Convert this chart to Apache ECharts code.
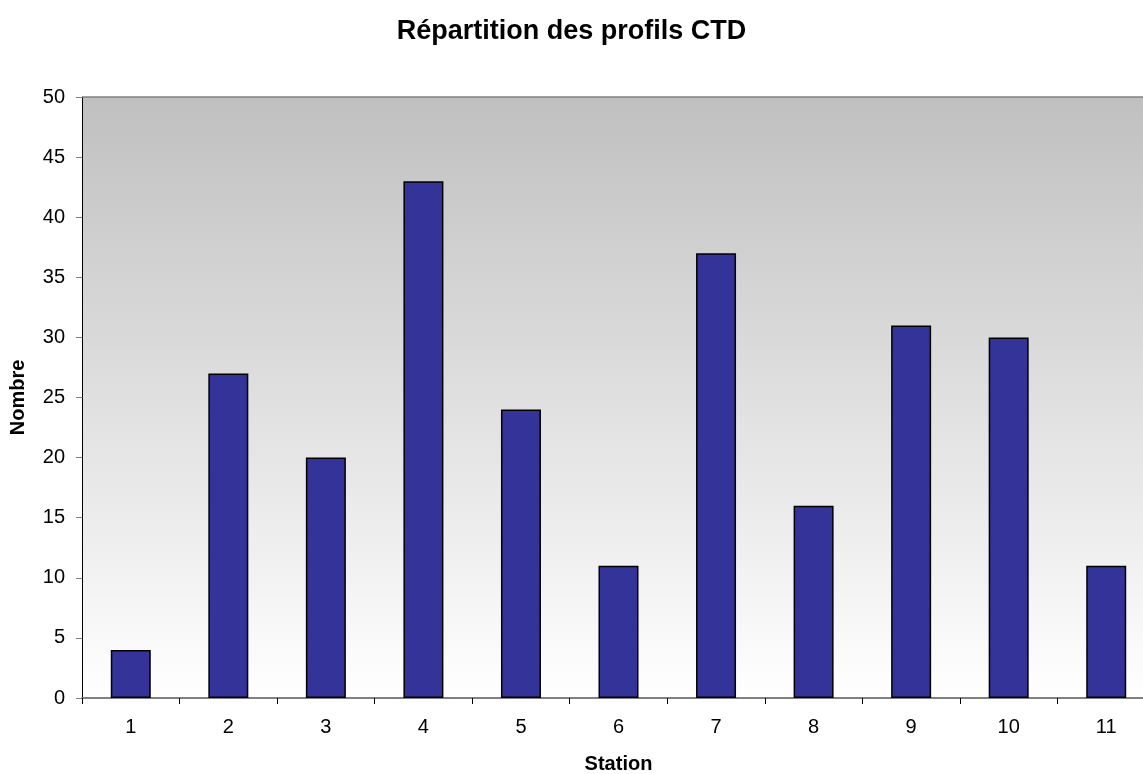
<!DOCTYPE html>
<html>
<head>
<meta charset="utf-8">
<script src="https://cdn.jsdelivr.net/npm/echarts@6/dist/echarts.min.js"></script>
<style>
  html, body { margin: 0; padding: 0; background: #ffffff; }
  #chart { width: 1143px; height: 774px; }
</style>
</head>
<body>
<div id="chart"></div>
<script>
// Nombre de profils CTD par station
const stations = ['1', '2', '3', '4', '5', '6', '7', '8', '9', '10', '11'];
const profils = [4, 27, 20, 43, 24, 11, 37, 16, 31, 30, 11];
const yTicks = [0, 5, 10, 15, 20, 25, 30, 35, 40, 45, 50];

const chart = echarts.init(document.getElementById('chart'), null, { renderer: 'canvas' });
const font = 'Liberation Sans, Arial, sans-serif';

chart.setOption({
  animation: false,
  backgroundColor: '#ffffff',
  title: {
    text: 'Répartition des profils CTD',
    left: 'center',
    top: 13,
    textStyle: { fontFamily: font, fontSize: 27, fontWeight: 'bold', color: '#000000' }
  },
  grid: {
    left: 82,
    right: -12,
    top: 97,
    bottom: 76,
    outerBoundsMode: 'none',
    containLabel: false,
    show: true,
    borderWidth: 0,
    backgroundColor: {
      type: 'linear', x: 0, y: 0, x2: 0, y2: 1,
      colorStops: [
        { offset: 0, color: '#c0c0c0' },
        { offset: 1, color: '#ffffff' }
      ]
    }
  },
  xAxis: {
    type: 'category',
    data: stations,
    name: 'Station',
    nameLocation: 'middle',
    nameGap: 56,
    nameTextStyle: { fontFamily: font, fontSize: 20, fontWeight: 'bold', color: '#000000' },
    axisLine: { show: true, lineStyle: { color: '#808080', width: 2 } },
    axisTick: { show: true, length: 6, lineStyle: { color: '#000000', width: 1 } },
    axisLabel: { fontFamily: font, fontSize: 20, color: '#000000', margin: 19 },
    splitLine: { show: false }
  },
  yAxis: {
    type: 'value',
    min: 0,
    max: 50,
    interval: 5,
    name: 'Nombre',
    nameLocation: 'middle',
    nameGap: 54,
    nameRotate: 90,
    nameTextStyle: { fontFamily: font, fontSize: 20, fontWeight: 'bold', color: '#000000' },
    axisLine: { show: true, lineStyle: { color: '#000000', width: 1 } },
    axisTick: { show: true, length: 6, lineStyle: { color: '#808080', width: 1 } },
    axisLabel: {
      fontFamily: font, fontSize: 20, color: '#000000', margin: 17,
      formatter: v => (yTicks.indexOf(v) >= 0 ? String(v) : '')
    },
    splitLine: { show: false }
  },
  series: [{
    type: 'bar',
    data: profils,
    barWidth: '41%',
    itemStyle: { color: '#333399', borderColor: '#000000', borderWidth: 1.5 },
    emphasis: { disabled: true }
  }, {
    // filet supérieur de la zone de tracé
    type: 'line',
    data: [],
    markLine: {
      silent: true,
      symbol: 'none',
      label: { show: false },
      lineStyle: { color: '#808080', type: 'solid', width: 1.5 },
      data: [{ yAxis: 50 }]
    }
  }]
});
</script>
</body>
</html>
